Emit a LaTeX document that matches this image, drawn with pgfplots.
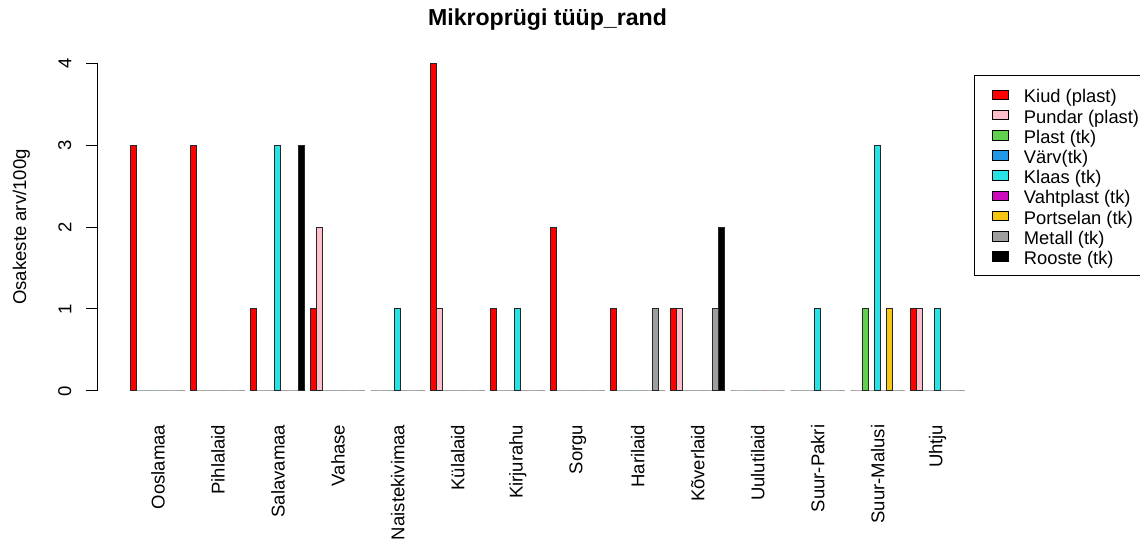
\documentclass[border=0pt]{standalone}
\usepackage{pgfplots}
\usepackage{pgfplotstable}
\usepackage{fontspec}
\setmainfont{Liberation Sans}
\pgfplotsset{compat=1.18}

% fill colours of the nine particle types
\definecolor{cKiud}{HTML}{FF0000}
\definecolor{cPundar}{HTML}{FFC0CB}
\definecolor{cPlast}{HTML}{61D04F}
\definecolor{cVarv}{HTML}{2297E6}
\definecolor{cKlaas}{HTML}{28E2E5}
\definecolor{cVaht}{HTML}{CD0BBC}
\definecolor{cPorts}{HTML}{F5C710}
\definecolor{cMetall}{HTML}{9E9E9E}
\definecolor{cRooste}{HTML}{000000}

% particles per 100 g, one row per site
\pgfplotstableread{
site          Kiud Pundar Plast Varv Klaas Vahtplast Portselan Metall Rooste
Ooslamaa      3    0      0     0    0     0         0         0      0
Pihlalaid     3    0      0     0    0     0         0         0      0
Salavamaa     1    0      0     0    3     0         0         0      3
Vahase        1    2      0     0    0     0         0         0      0
Naistekivimaa 0    0      0     0    1     0         0         0      0
Kulalaid      4    1      0     0    0     0         0         0      0
Kirjurahu     1    0      0     0    1     0         0         0      0
Sorgu         2    0      0     0    0     0         0         0      0
Harilaid      1    0      0     0    0     0         0         1      0
Koverlaid     1    1      0     0    0     0         0         1      2
Uulutilaid    0    0      0     0    0     0         0         0      0
SuurPakri     0    0      0     0    1     0         0         0      0
SuurMalusi    0    0      1     0    3     0         1         0      0
Uhtju         1    1      0     0    1     0         0         0      0
}\datatable

\pgfplotsset{
  rlegend/.style={
    legend image code/.code={
      \draw[##1, draw=black, line width=0.5bp] (0bp,-2.4bp) rectangle (8bp,2.4bp);
      \path[draw=none, fill=none] (0bp,0bp) -- (15.5bp,0bp);
    }
  }
}

\newcommand{\basefont}{\fontsize{9.3}{11}\selectfont}

\begin{document}
\begin{tikzpicture}
\path[use as bounding box] (0bp,0bp) rectangle (570bp,-269.5bp);

\node[anchor=base, font=\fontsize{11.6}{13}\selectfont\bfseries] at (273.75bp,-12.5bp) {Mikroprügi tüüp\_rand};
\node[anchor=base, rotate=90, font=\basefont] at (13bp,-113.5bp) {Osakeste arv/100g};

\begin{axis}[
  at={(48.8bp,-202.05bp)}, anchor=south west,
  scale only axis, width=450.2bp, height=177.1bp,
  xmin=-4.56, xmax=145.56, ymin=-0.16, ymax=4.16,
  clip=false,
  every axis plot/.append style={ybar, bar width=1, bar shift=0pt,
    draw=black!85, line width=0.5bp, rlegend},
  axis line style={draw=none},
  xtick={5.5,15.5,25.5,35.5,45.5,55.5,65.5,75.5,85.5,95.5,105.5,115.5,125.5,135.5},
  xticklabels={Ooslamaa,Pihlalaid,Salavamaa,Vahase,Naistekivimaa,Külalaid,Kirjurahu,Sorgu,Harilaid,Kõverlaid,Uulutilaid,Suur-Pakri,Suur-Malusi,Uhtju},
  x tick style={draw=none},
  xticklabel style={rotate=90, anchor=east, inner sep=0pt, font=\basefont},
  xticklabel shift=4.5bp,
  ytick={0,1,2,3,4},
  ytick pos=left, tick align=outside, major tick length=5.6bp,
  y tick style={black, line width=0.5bp},
  yticklabel style={rotate=90, anchor=south, inner sep=0pt, font=\basefont},
  yticklabel shift=7.3bp,
  /pgf/number format/assume math mode=true,
  legend style={at={(0.9733,0.9291)}, anchor=north west, draw=black,
    line width=0.5bp, inner xsep=9bp, inner ysep=4.6bp, row sep=0pt,
    font=\fontsize{9.2}{10}\selectfont, cells={anchor=west},
    nodes={inner sep=0pt, text height=9.1bp, text depth=1bp}},
]
\addplot[fill=cKiud]   table[x expr=\coordindex*10+1.5, y=Kiud]{\datatable};
\addlegendentry{Kiud (plast)}
\addplot[fill=cPundar] table[x expr=\coordindex*10+2.5, y=Pundar]{\datatable};
\addlegendentry{Pundar (plast)}
\addplot[fill=cPlast]  table[x expr=\coordindex*10+3.5, y=Plast]{\datatable};
\addlegendentry{Plast (tk)}
\addplot[fill=cVarv]   table[x expr=\coordindex*10+4.5, y=Varv]{\datatable};
\addlegendentry{Värv(tk)}
\addplot[fill=cKlaas]  table[x expr=\coordindex*10+5.5, y=Klaas]{\datatable};
\addlegendentry{Klaas (tk)}
\addplot[fill=cVaht]   table[x expr=\coordindex*10+6.5, y=Vahtplast]{\datatable};
\addlegendentry{Vahtplast (tk)}
\addplot[fill=cPorts]  table[x expr=\coordindex*10+7.5, y=Portselan]{\datatable};
\addlegendentry{Portselan (tk)}
\addplot[fill=cMetall] table[x expr=\coordindex*10+8.5, y=Metall]{\datatable};
\addlegendentry{Metall (tk)}
\addplot[fill=cRooste] table[x expr=\coordindex*10+9.5, y=Rooste]{\datatable};
\addlegendentry{Rooste (tk)}

% y axis line spans only the tick range
\draw[line width=0.5bp] (axis cs:-4.56,0) -- (axis cs:-4.56,4);
\end{axis}
\end{tikzpicture}
\end{document}
